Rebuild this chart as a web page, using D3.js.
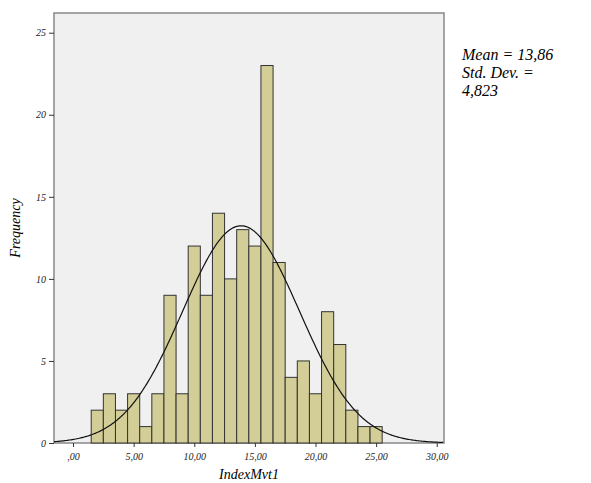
<!DOCTYPE html>
<html><head><meta charset="utf-8">
<script src="https://cdn.jsdelivr.net/npm/d3@7"></script>
<style>body{margin:0;background:#fff}svg text{font-family:"Liberation Serif","DejaVu Serif","Times New Roman",serif !important;font-style:italic}</style>
</head><body><div class="chart"></div>
<script>
const binCenters = [2,3,4,5,6,7,8,9,10,11,12,13,14,15,16,17,18,19,20,21,22,23,24,25];
const counts = [2,3,2,3,1,3,9,3,12,9,14,10,13,12,23,11,4,5,3,8,6,2,1,1];
const xTicks = [0,5,10,15,20,25,30];
const yTicks = [0,5,10,15,20,25];
const mean = 13.86, sd = 4.823, n = 160;

const svg = d3.select('.chart').append('svg').attr('width', 591).attr('height', 483);
const m = {l: 54, r: 444, t: 13, b: 443};
const x = d3.scaleLinear().domain([-1.57, 30.6]).range([m.l, m.r]);
const y = d3.scaleLinear().domain([0, 26.2]).range([m.b, m.t]);

svg.append('rect').attr('x', m.l).attr('y', m.t).attr('width', m.r - m.l).attr('height', m.b - m.t)
    .attr('fill', '#f0f0f0').attr('stroke', '#888').attr('stroke-width', 1.5);

svg.selectAll('.bar').data(binCenters).enter().append('rect')
    .attr('x', d => x(d - 0.5)).attr('width', x(1) - x(0))
    .attr('y', (d, i) => y(counts[i])).attr('height', (d, i) => y(0) - y(counts[i]))
    .attr('fill', '#d3ce97').attr('stroke', '#333').attr('stroke-width', 1);

const pts = d3.range(-1.57, 30.6, 0.1).map(v => [v, n / (sd * Math.sqrt(2 * Math.PI)) * Math.exp(-0.5 * ((v - mean) / sd) ** 2)]);
svg.append('path').datum(pts).attr('fill', 'none').attr('stroke', '#111').attr('stroke-width', 1.2)
    .attr('d', d3.line().x(d => x(d[0])).y(d => y(d[1])));

const fmt = d => d === 0 ? ',00' : d + ',00';
const xa = svg.append('g').attr('transform', `translate(0,${m.b})`)
    .call(d3.axisBottom(x).tickValues(xTicks).tickFormat(fmt).tickSize(4).tickPadding(6));
const ya = svg.append('g').attr('transform', `translate(${m.l},0)`)
    .call(d3.axisLeft(y).tickValues(yTicks).tickSize(5));
[xa, ya].forEach(a => {
    a.select('.domain').remove();
    a.selectAll('text').attr('font-size', 10).attr('fill', '#222');
    a.selectAll('line').attr('stroke', '#333');
});

svg.append('text').attr('x', 249).attr('y', 479).attr('text-anchor', 'middle').attr('font-size', 14).text('IndexMvt1');
svg.append('text').attr('transform', 'translate(20,228) rotate(-90)').attr('text-anchor', 'middle').attr('font-size', 14).text('Frequency');

['Mean =  13,86', 'Std. Dev. =', '4,823'].forEach((t, i) => {
    svg.append('text').attr('x', 462).attr('y', 60 + i * 18).attr('font-size', 16).text(t);
});
</script></body></html>
